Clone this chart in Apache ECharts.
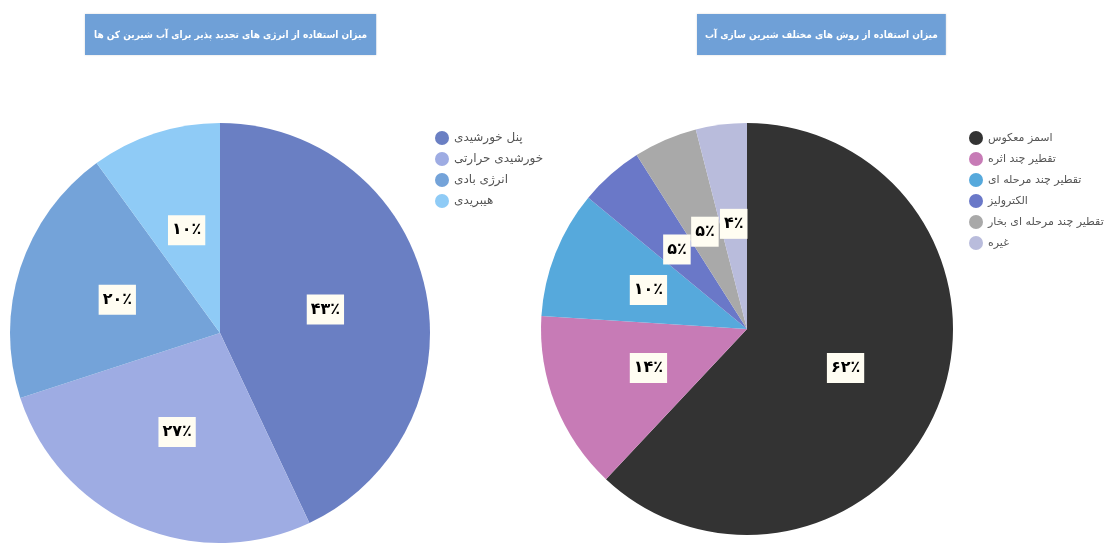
<!DOCTYPE html>
<html lang="fa">
<head>
<meta charset="UTF-8">
<title>pie charts</title>
<script src="https://cdn.jsdelivr.net/npm/echarts@6/dist/echarts.min.js"></script>
<style>
  body { margin: 0; background: #fff; }
</style>
</head>
<body>
<div id="main" style="width:1105px;height:543px;"></div>
<script type="text/javascript">
// داده ها
var leftTitle = 'میزان استفاده از انرژی های تجدید پذیر برای آب شیرین کن ها';
var leftNames = ['پنل خورشیدی', 'خورشیدی حرارتی', 'انرژی بادی', 'هیبریدی'];
var leftValues = [43, 27, 20, 10];
var leftColors = ['#6a7fc3', '#9eace3', '#74a3d9', '#8fcbf6'];

var rightTitle = 'میزان استفاده از روش های مختلف شیرین سازی آب';
var rightNames = ['اسمز معکوس', 'تقطیر چند اثره', 'تقطیر چند مرحله ای', 'الکترولیز', 'تقطیر چند مرحله ای بخار', 'غیره'];
var rightValues = [62, 14, 10, 5, 5, 4];
var rightColors = ['#333333', '#c77bb6', '#56a9dc', '#6a78c8', '#a9a9a9', '#b9bcdc'];

var faFont = 'DejaVu Sans';

function toFa(n) {
    return String(n).replace(/[0-9]/g, function (d) { return '۰۱۲۳۴۵۶۷۸۹'[d]; }) + '٪';
}

function makeData(names, values) {
    return names.map(function (n, i) { return { name: n, value: values[i] }; });
}

var myChart = echarts.init(document.getElementById('main'));

var labelStyle = {
    show: true,
    position: 'inside',
    formatter: function (p) { return toFa(p.value); },
    color: '#000',
    fontFamily: faFont,
    fontWeight: 'bold',
    fontSize: 16,
    backgroundColor: '#fffdf2',
    padding: [8, 4, 6, 4]
};

var titleBox = {
    color: '#fff',
    fontFamily: 'DejaVu Sans Condensed',
    fontSize: 10,
    fontWeight: 'bold'
};

var option = {
    animation: false,
    title: [
        {
            text: leftTitle,
            left: 85, top: 14,
            backgroundColor: '#6fa0d7',
            padding: [16, 9, 15, 9],
            textStyle: titleBox,
            shadowColor: 'rgba(0,0,0,0.15)', shadowBlur: 2
        },
        {
            text: rightTitle,
            left: 697, top: 14,
            backgroundColor: '#6fa0d7',
            padding: [16, 8, 15, 8],
            textStyle: titleBox,
            shadowColor: 'rgba(0,0,0,0.15)', shadowBlur: 2
        }
    ],
    legend: [
        {
            data: leftNames,
            orient: 'vertical',
            left: 430, top: 126,
            icon: 'circle',
            itemWidth: 14, itemHeight: 14, itemGap: 7,
            textStyle: { color: '#555', fontFamily: faFont, fontSize: 12 }
        },
        {
            data: rightNames,
            orient: 'vertical',
            left: 964, top: 126,
            icon: 'circle',
            itemWidth: 14, itemHeight: 14, itemGap: 7,
            textStyle: { color: '#555', fontFamily: faFont, fontSize: 11 }
        }
    ],
    series: [
        {
            type: 'pie',
            center: [220, 333],
            radius: 210,
            startAngle: 90,
            color: leftColors,
            data: makeData(leftNames, leftValues),
            label: labelStyle,
            labelLine: { show: false },
            itemStyle: { borderWidth: 0 }
        },
        {
            type: 'pie',
            center: [747, 329],
            radius: 206,
            startAngle: 90,
            color: rightColors,
            data: makeData(rightNames, rightValues),
            label: labelStyle,
            labelLine: { show: false },
            itemStyle: { borderWidth: 0 }
        }
    ]
};

myChart.setOption(option);
</script>
</body>
</html>
